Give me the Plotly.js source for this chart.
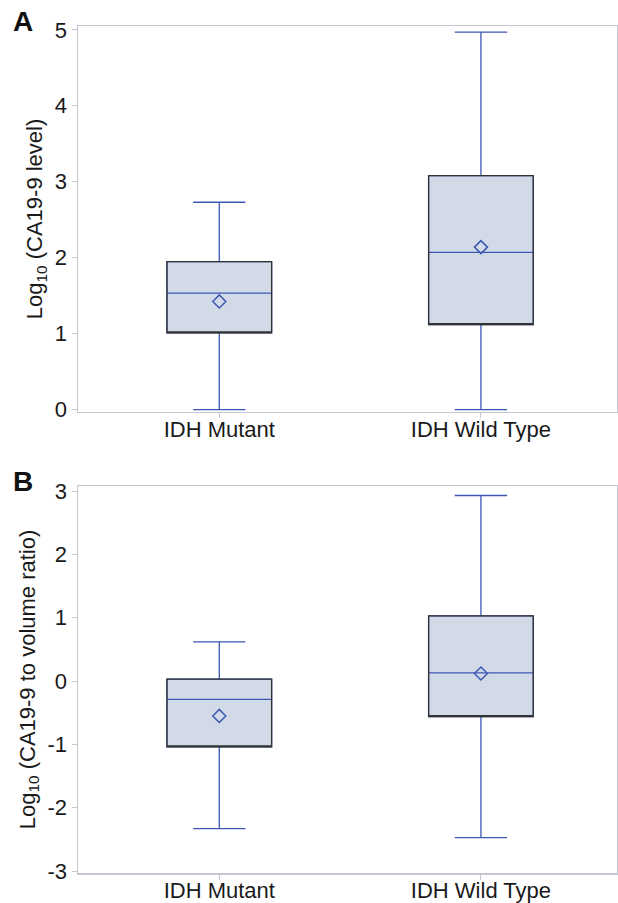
<!DOCTYPE html>
<html>
<head>
<meta charset="utf-8">
<script src="https://cdn.plot.ly/plotly-3.0.1.min.js"></script>
<style>html,body{margin:0;padding:0;background:#fff;}#chart{width:618px;height:903px;}</style>
</head>
<body>
<div id="chart"></div>
<script>
// Categories
const groups = ["IDH Mutant", "IDH Wild Type"];

// Panel A: Log10 (CA19-9 level)
const aLower  = [0.00, 0.00];
const aQ1     = [1.01, 1.12];
const aMedian = [1.535, 2.07];
const aQ3     = [1.95, 3.08];
const aUpper  = [2.73, 4.97];
const aMean   = [1.425, 2.14];

// Panel B: Log10 (CA19-9 to volume ratio)
const bLower  = [-2.33, -2.47];
const bQ1     = [-1.04, -0.56];
const bMedian = [-0.29, 0.13];
const bQ3     = [0.03, 1.03];
const bUpper  = [0.62, 2.93];
const bMean   = [-0.55, 0.12];

const yTicksA = [0, 1, 2, 3, 4, 5];
const yLabelsA = ["0", "1", "2", "3", "4", "5"];
const yTicksB = [-3, -2, -1, 0, 1, 2, 3];
const yLabelsB = ["-3", "-2", "-1", "0", "1", "2", "3"];

const BLUE = "#3d58b3";
const FILL = "#d2dae8";
const EDGE = "#333333";
const BOXW = 0.4;

function panel(xa, ya, lo, q1, med, q3, up, mean) {
  return [
    { type: "box", x: groups, xaxis: xa, yaxis: ya,
      lowerfence: lo, q1: q1, median: med, q3: q3, upperfence: up,
      width: BOXW, whiskerwidth: 0.5, fillcolor: FILL,
      line: { color: BLUE, width: 1.3 }, boxpoints: false, hoverinfo: "skip", showlegend: false },
    { type: "box", x: groups, xaxis: xa, yaxis: ya,
      lowerfence: q1, q1: q1, median: q1, q3: q3, upperfence: q3,
      width: BOXW, whiskerwidth: 0, fillcolor: "rgba(0,0,0,0)",
      line: { color: EDGE, width: 1.3 }, boxpoints: false, hoverinfo: "skip", showlegend: false },
    { type: "scatter", mode: "markers", x: groups, y: mean, xaxis: xa, yaxis: ya,
      marker: { symbol: "diamond-open", size: 10, color: BLUE, line: { width: 1.5, color: BLUE } },
      hoverinfo: "skip", showlegend: false }
  ];
}

const data = [].concat(
  panel("x", "y", aLower, aQ1, aMedian, aQ3, aUpper, aMean),
  panel("x2", "y2", bLower, bQ1, bMedian, bQ3, bUpper, bMean)
);

const FONT = "Liberation Sans, Arial, sans-serif";
const AXC = "#c3c7cf";

function xAxis(anchor) {
  return { anchor: anchor, type: "category", range: [-0.54, 1.52],
    showline: true, linecolor: AXC, linewidth: 1.5, mirror: true,
    ticks: "outside", ticklen: 5, tickcolor: AXC, showgrid: false, zeroline: false,
    ticklabelstandoff: -8,
    tickfont: { family: FONT, size: 22, color: "#1a1a1a" } };
}
function yAxis(anchor, domain, range, ticks, labels, title) {
  return { anchor: anchor, domain: domain, range: range, tickvals: ticks, ticktext: labels,
    showline: true, linecolor: AXC, linewidth: 1.5, mirror: true,
    ticks: "outside", ticklen: 5, tickcolor: AXC, showgrid: false, zeroline: false,
    tickfont: { family: FONT, size: 22, color: "#1a1a1a" },
    title: { text: title, standoff: 6, font: { family: FONT, size: 22, color: "#1a1a1a" } } };
}

const layout = {
  width: 618, height: 903,
  margin: { l: 78, r: 1, t: 26, b: 30 },
  paper_bgcolor: "#fff", plot_bgcolor: "#fff",
  boxmode: "overlay",
  xaxis: xAxis("y"),
  yaxis: yAxis("x", [0.5443, 1], [-0.03, 5.05], yTicksA, yLabelsA, "Log<sub>10</sub> (CA19-9 level)"),
  xaxis2: xAxis("y2"),
  yaxis2: yAxis("x2", [0, 0.4569], [-3.03, 3.08], yTicksB, yLabelsB, "Log<sub>10</sub> (CA19-9 to volume ratio)"),
  annotations: [
    { text: "<b>A</b>", xref: "paper", yref: "paper", x: -0.125, y: 1.005, xanchor: "left", yanchor: "middle",
      showarrow: false, font: { family: FONT, size: 28, color: "#111" } },
    { text: "<b>B</b>", xref: "paper", yref: "paper", x: -0.125, y: 0.4628, xanchor: "left", yanchor: "middle",
      showarrow: false, font: { family: FONT, size: 28, color: "#111" } }
  ]
};

Plotly.newPlot("chart", data, layout, { displayModeBar: false, staticPlot: true });
</script>
</body>
</html>
